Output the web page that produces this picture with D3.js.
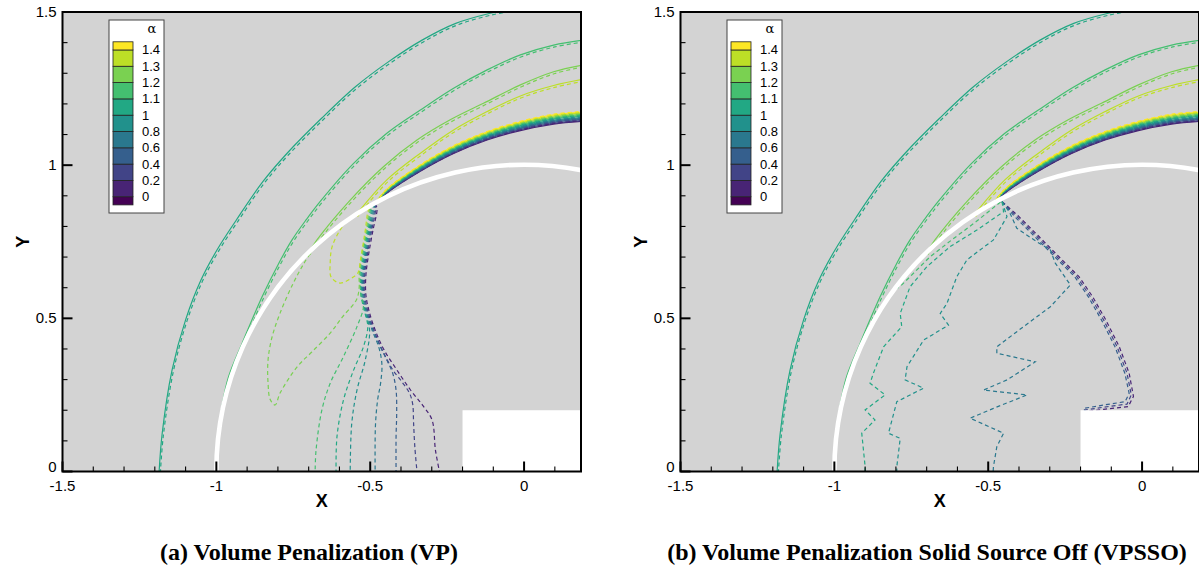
<!DOCTYPE html>
<html>
<head>
<meta charset="utf-8">
<script src="https://cdn.jsdelivr.net/npm/d3@7"></script>
<style>
  body { margin: 0; background: #fff; }
  svg { display: block; }
</style>
</head>
<body>
<svg id="chart" width="1199" height="571"></svg>
<script>
// ---- contour levels of alpha (legend) ----
const levels = [0, 0.2, 0.4, 0.6, 0.8, 1, 1.1, 1.2, 1.3, 1.4];
const levelLabels = ["0", "0.2", "0.4", "0.6", "0.8", "1", "1.1", "1.2", "1.3", "1.4"];

// ---- axis ticks ----
const xTickValues = [-1.5, -1, -0.5, 0];
const xTickLabels = ["-1.5", "-1", "-0.5", "0"];
const yTickValues = [0, 0.5, 1, 1.5];
const yTickLabels = ["0", "0.5", "1", "1.5"];

const captions = ["(a) Volume Penalization (VP)", "(b) Volume Penalization Solid Source Off (VPSSO)"];

// ---- outer contours, body-fitted reference (solid) : [x, y] ----
const shock10 = [[-1.186,0.000],[-1.176,0.125],[-1.144,0.331],[-1.100,0.495],[-1.050,0.625],[-0.998,0.723],[-0.935,0.821],[-0.849,0.946],[-0.770,1.039],[-0.658,1.153],[-0.548,1.256],[-0.440,1.338],[-0.330,1.409],[-0.222,1.463],[-0.110,1.496],[-0.040,1.510]];
const shock11 = [[-0.990,0.150],[-0.981,0.217],[-0.960,0.310],[-0.916,0.419],[-0.851,0.571],[-0.797,0.680],[-0.754,0.756],[-0.708,0.822],[-0.663,0.881],[-0.554,1.006],[-0.446,1.104],[-0.337,1.180],[-0.229,1.251],[-0.120,1.311],[-0.012,1.360],[0.096,1.392],[0.190,1.408]];
const shock12 = [[-0.700,0.714],[-0.673,0.756],[-0.565,0.886],[-0.457,0.995],[-0.348,1.082],[-0.240,1.148],[-0.132,1.202],[-0.012,1.262],[0.096,1.305],[0.190,1.327]];
const shock13 = [[-0.545,0.838],[-0.533,0.854],[-0.446,0.952],[-0.337,1.039],[-0.229,1.115],[-0.120,1.175],[-0.012,1.226],[0.096,1.260],[0.190,1.280]];

// ---- thin layer above the body: y of each level at these x stations ----
const layerX = [-0.485, -0.446, -0.337, -0.229, -0.120, -0.012, 0.096, 0.190];
const layerY = [
  [0.874, 0.909, 0.980, 1.038, 1.082, 1.113, 1.134, 1.143],
  [0.874, 0.910, 0.982, 1.041, 1.085, 1.116, 1.137, 1.146],
  [0.874, 0.912, 0.984, 1.043, 1.088, 1.119, 1.141, 1.150],
  [0.874, 0.913, 0.987, 1.046, 1.091, 1.122, 1.144, 1.153],
  [0.874, 0.914, 0.989, 1.049, 1.094, 1.125, 1.147, 1.156],
  [0.874, 0.916, 0.991, 1.051, 1.096, 1.129, 1.151, 1.160],
  [0.874, 0.917, 0.993, 1.054, 1.099, 1.132, 1.154, 1.163],
  [0.874, 0.918, 0.996, 1.057, 1.102, 1.135, 1.157, 1.166],
  [0.874, 0.920, 0.998, 1.059, 1.105, 1.138, 1.161, 1.170],
  [0.874, 0.921, 1.000, 1.062, 1.108, 1.141, 1.164, 1.173]
];

// ---- VP contours inside the body (dashed) ----
const vp0  = [[-0.485,0.874],[-0.478,0.860],[-0.491,0.788],[-0.504,0.716],[-0.514,0.641],[-0.514,0.576],[-0.503,0.521],[-0.484,0.462],[-0.455,0.397],[-0.413,0.331],[-0.369,0.266],[-0.328,0.214],[-0.299,0.168],[-0.288,0.070],[-0.275,0.000]];
const vp02 = [[-0.485,0.874],[-0.482,0.860],[-0.495,0.788],[-0.508,0.716],[-0.518,0.641],[-0.518,0.576],[-0.507,0.521],[-0.488,0.462],[-0.461,0.397],[-0.426,0.331],[-0.395,0.290],[-0.372,0.255],[-0.362,0.220],[-0.359,0.157],[-0.355,0.080],[-0.348,0.000]];
const vp04 = [[-0.485,0.874],[-0.485,0.860],[-0.498,0.788],[-0.511,0.716],[-0.521,0.641],[-0.521,0.576],[-0.510,0.521],[-0.491,0.462],[-0.466,0.405],[-0.446,0.364],[-0.427,0.321],[-0.416,0.266],[-0.414,0.190],[-0.416,0.114],[-0.416,0.000]];
const vp06 = [[-0.485,0.874],[-0.488,0.860],[-0.501,0.788],[-0.514,0.716],[-0.524,0.641],[-0.524,0.576],[-0.513,0.521],[-0.494,0.462],[-0.472,0.405],[-0.462,0.350],[-0.466,0.290],[-0.476,0.233],[-0.483,0.150],[-0.484,0.000]];
const vp08 = [[-0.485,0.874],[-0.491,0.860],[-0.504,0.788],[-0.517,0.716],[-0.527,0.641],[-0.527,0.576],[-0.516,0.521],[-0.502,0.460],[-0.516,0.364],[-0.543,0.266],[-0.560,0.157],[-0.565,0.000]];
const vp10 = [[-0.485,0.874],[-0.494,0.860],[-0.507,0.788],[-0.520,0.716],[-0.530,0.641],[-0.530,0.576],[-0.518,0.521],[-0.508,0.473],[-0.522,0.407],[-0.554,0.331],[-0.587,0.233],[-0.608,0.114],[-0.611,0.000]];
const vp11 = [[-0.485,0.874],[-0.497,0.860],[-0.510,0.788],[-0.523,0.716],[-0.533,0.641],[-0.530,0.576],[-0.522,0.538],[-0.543,0.473],[-0.587,0.375],[-0.630,0.288],[-0.657,0.201],[-0.676,0.070],[-0.679,0.000]];
const vp12 = [[-0.485,0.874],[-0.500,0.860],[-0.513,0.788],[-0.526,0.716],[-0.536,0.641],[-0.536,0.600],[-0.545,0.560],[-0.590,0.505],[-0.630,0.452],[-0.690,0.390],[-0.738,0.341],[-0.793,0.256],[-0.809,0.217],[-0.825,0.235],[-0.832,0.289],[-0.832,0.364],[-0.819,0.439],[-0.793,0.517],[-0.750,0.615],[-0.715,0.680],[-0.690,0.720]];
const vp13 = [[-0.485,0.874],[-0.503,0.860],[-0.516,0.788],[-0.525,0.730],[-0.532,0.690],[-0.539,0.650],[-0.555,0.635],[-0.598,0.615],[-0.627,0.635],[-0.630,0.681],[-0.624,0.733],[-0.598,0.788],[-0.565,0.831]];

// ---- VPSSO contours inside the body (dashed) ----
const vpsso0  = [[-0.455,0.881],[-0.400,0.832],[-0.335,0.767],[-0.270,0.701],[-0.205,0.636],[-0.161,0.571],[-0.118,0.495],[-0.074,0.407],[-0.042,0.321],[-0.028,0.245],[-0.045,0.212],[-0.125,0.203],[-0.190,0.195],[-0.170,0.170]];
const vpsso02 = [[-0.455,0.881],[-0.407,0.832],[-0.342,0.767],[-0.277,0.701],[-0.212,0.636],[-0.168,0.571],[-0.125,0.495],[-0.081,0.407],[-0.049,0.321],[-0.035,0.250],[-0.049,0.220],[-0.125,0.210],[-0.190,0.200],[-0.170,0.170]];
const vpsso04 = [[-0.455,0.881],[-0.414,0.832],[-0.349,0.767],[-0.284,0.701],[-0.219,0.636],[-0.175,0.571],[-0.132,0.495],[-0.088,0.407],[-0.056,0.321],[-0.042,0.255],[-0.055,0.228],[-0.125,0.217],[-0.190,0.206],[-0.170,0.170]];
const vpsso06 = [[-0.455,0.881],[-0.430,0.845],[-0.407,0.794],[-0.342,0.750],[-0.298,0.723],[-0.282,0.680],[-0.244,0.625],[-0.233,0.609],[-0.298,0.538],[-0.385,0.473],[-0.472,0.407],[-0.472,0.386],[-0.347,0.358],[-0.439,0.299],[-0.515,0.266],[-0.374,0.250],[-0.483,0.206],[-0.559,0.174],[-0.450,0.125],[-0.472,0.081],[-0.483,0.016],[-0.484,0.000]];
const vpsso08 = [[-0.455,0.881],[-0.439,0.832],[-0.483,0.756],[-0.569,0.691],[-0.602,0.636],[-0.634,0.549],[-0.656,0.516],[-0.629,0.478],[-0.710,0.429],[-0.764,0.342],[-0.770,0.299],[-0.710,0.272],[-0.797,0.228],[-0.824,0.125],[-0.786,0.108],[-0.797,0.016],[-0.797,0.000]];
const vpsso10 = [[-0.455,0.881],[-0.450,0.848],[-0.537,0.788],[-0.624,0.734],[-0.699,0.669],[-0.754,0.603],[-0.786,0.516],[-0.781,0.473],[-0.840,0.407],[-0.873,0.321],[-0.884,0.288],[-0.835,0.250],[-0.900,0.201],[-0.868,0.168],[-0.911,0.125],[-0.900,0.016],[-0.900,0.000]];
const vpsso11 = [[-0.460,0.880],[-0.540,0.815],[-0.620,0.755],[-0.690,0.700],[-0.740,0.650],[-0.780,0.610],[-0.800,0.595]];

// body: unit circle centred at the origin; unresolved corner region
const bodyRadius = 1;
const cornerBox = { x0: -0.2, y1: 0.2 };

// ---- layout ----
const svg = d3.select("#chart");
const panelShift = [0, 618];
const xDomain = [-1.5, 0.185];
const x = d3.scaleLinear().domain(xDomain).range([62.5, 581]);
const y = d3.scaleLinear().domain([0, 1.5]).range([471.5, 12]);
const levelColor = i => d3.interpolateViridis((i + 1) / 10);

const smooth = d3.line().x(d => x(d[0])).y(d => y(d[1])).curve(d3.curveCatmullRom.alpha(0.5));
const straight = d3.line().x(d => x(d[0])).y(d => y(d[1]));
const layerPts = i => layerX.map((v, j) => [v, layerY[i][j]]);

const shocks = [
  { pts: shock10, lv: 5 }, { pts: shock11, lv: 6 },
  { pts: shock12, lv: 7 }, { pts: shock13, lv: 8 }
];
const insideLines = [
  { lines: [
      { pts: vp0, lv: 0 }, { pts: vp02, lv: 1 }, { pts: vp04, lv: 2 }, { pts: vp06, lv: 3 },
      { pts: vp08, lv: 4 }, { pts: vp10, lv: 5 }, { pts: vp11, lv: 6 }, { pts: vp12, lv: 7 },
      { pts: vp13, lv: 8 }], gen: smooth },
  { lines: [
      { pts: vpsso0, lv: 0 }, { pts: vpsso02, lv: 1 }, { pts: vpsso04, lv: 2 }, { pts: vpsso06, lv: 3 },
      { pts: vpsso08, lv: 4 }, { pts: vpsso10, lv: 5 }, { pts: vpsso11, lv: 6 }], gen: straight }
];

const font = "'Liberation Sans', Arial, Helvetica, sans-serif";
const DASH = "4 3";

function drawPanel(k) {
  const g = svg.append("g").attr("transform", `translate(${panelShift[k]},0)`);
  const px0 = x(xDomain[0]), px1 = x(xDomain[1]), py0 = y(1.5), py1 = y(0);

  g.append("clipPath").attr("id", "clip" + k).append("rect")
    .attr("x", px0).attr("y", py0).attr("width", px1 - px0).attr("height", py1 - py0);

  g.append("rect").attr("x", px0).attr("y", py0)
    .attr("width", px1 - px0).attr("height", py1 - py0).attr("fill", "#d3d3d3");

  const plot = g.append("g").attr("clip-path", `url(#clip${k})`);

  // reference solution contours (solid)
  shocks.forEach(s => plot.append("path").attr("d", smooth(s.pts))
    .attr("fill", "none").attr("stroke", levelColor(s.lv)).attr("stroke-width", 1.2));
  levels.forEach((l, i) => plot.append("path").attr("d", smooth(layerPts(i)))
    .attr("fill", "none").attr("stroke", levelColor(i)).attr("stroke-width", 1.2));

  // penalized solution contours (dashed), outside the body
  const dashed = plot.append("g").attr("fill", "none").attr("stroke-width", 1.2)
    .attr("stroke-dasharray", DASH);
  shocks.forEach(s => dashed.append("path").attr("d", smooth(s.pts))
    .attr("transform", "translate(1.2,1.8)").attr("stroke", levelColor(s.lv)));
  levels.forEach((l, i) => dashed.append("path").attr("d", smooth(layerPts(i)))
    .attr("transform", "translate(0.6,-0.8)").attr("stroke", levelColor(i)));

  // penalized solution contours inside the body
  const set = insideLines[k];
  set.lines.forEach(s => dashed.append("path").attr("d", set.gen(s.pts))
    .attr("stroke", levelColor(s.lv)));

  // body outline
  const rx = x(bodyRadius) - x(0), ry = y(0) - y(bodyRadius);
  const xe = xDomain[1], ye = Math.sqrt(bodyRadius * bodyRadius - xe * xe);
  plot.append("path")
    .attr("d", `M${x(-bodyRadius)},${y(0)} A${rx},${ry} 0 0 1 ${x(xe) + 2},${y(ye)}`)
    .attr("fill", "none").attr("stroke", "#fff").attr("stroke-width", 4.6);

  // corner region without data
  plot.append("rect").attr("x", x(cornerBox.x0)).attr("y", y(cornerBox.y1))
    .attr("width", px1 - x(cornerBox.x0) + 2).attr("height", py1 - y(cornerBox.y1))
    .attr("fill", "#fff");

  // ticks (inward)
  const ticks = g.append("g").attr("stroke", "#000");
  d3.range(-15, 2).forEach(v => {
    const t = v / 10, major = v % 5 === 0;
    ticks.append("line").attr("x1", x(t)).attr("x2", x(t))
      .attr("y1", py1).attr("y2", py1 - (major ? 10 : 5)).attr("stroke-width", major ? 2 : 1.1);
  });
  d3.range(0, 16).forEach(v => {
    const t = v / 10, major = v % 5 === 0;
    ticks.append("line").attr("y1", y(t)).attr("y2", y(t))
      .attr("x1", px0).attr("x2", px0 + (major ? 10 : 5)).attr("stroke-width", major ? 2 : 1.1);
  });

  // frame
  g.append("rect").attr("x", px0).attr("y", py0)
    .attr("width", px1 - px0).attr("height", py1 - py0)
    .attr("fill", "none").attr("stroke", "#000").attr("stroke-width", 2);

  // tick labels
  xTickValues.forEach((v, i) => g.append("text").attr("x", x(v)).attr("y", py1 + 19)
    .attr("text-anchor", "middle").attr("font-family", font).attr("font-size", 15)
    .attr("fill", "#000").text(xTickLabels[i]));
  yTickValues.forEach((v, i) => g.append("text").attr("x", px0 - 6)
    .attr("y", v === 0 ? y(v) + 0.5 : y(v) + 5)
    .attr("text-anchor", "end").attr("font-family", font).attr("font-size", 15)
    .attr("fill", "#000").text(yTickLabels[i]));

  // axis titles
  g.append("text").attr("x", (px0 + px1) / 2).attr("y", 507)
    .attr("text-anchor", "middle").attr("font-family", font).attr("font-size", 18)
    .attr("font-weight", "bold").text("X");
  g.append("text").attr("transform", `translate(29,${y(0.75)}) rotate(-90)`)
    .attr("text-anchor", "middle").attr("font-family", font).attr("font-size", 18)
    .attr("font-weight", "bold").text("Y");

  // legend
  const lg = g.append("g");
  lg.append("rect").attr("x", 109).attr("y", 20).attr("width", 55).attr("height", 193)
    .attr("fill", "#fff").attr("stroke", "#444").attr("stroke-width", 1);
  lg.append("text").attr("x", 152).attr("y", 33).attr("text-anchor", "middle")
    .attr("font-family", "'DejaVu Serif', serif").attr("font-size", 13).text("α");
  const ly = d3.scaleLinear().domain([-0.5, levels.length - 0.5]).range([204.9, 41.8]);
  d3.range(0, levels.length + 1).forEach(b => {
    const yTop = b === levels.length ? ly(levels.length - 0.5) : ly(b);
    const yBot = b === 0 ? ly(-0.5) : ly(b - 1);
    lg.append("rect").attr("x", 113).attr("y", yTop).attr("width", 20).attr("height", yBot - yTop)
      .attr("fill", d3.interpolateViridis(b / 10)).attr("stroke", "#222").attr("stroke-width", 0.8);
  });
  levels.forEach((l, i) => lg.append("text").attr("x", 142).attr("y", ly(i) + 4.5)
    .attr("font-family", font).attr("font-size", 13).text(levelLabels[i]));

  // caption
  g.append("text").attr("x", 309).attr("y", 560).attr("text-anchor", "middle")
    .attr("font-family", "'Liberation Serif', 'Times New Roman', serif").attr("font-size", 24)
    .attr("font-weight", "bold").text(captions[k]);
}

drawPanel(0);
drawPanel(1);
</script>
</body>
</html>
